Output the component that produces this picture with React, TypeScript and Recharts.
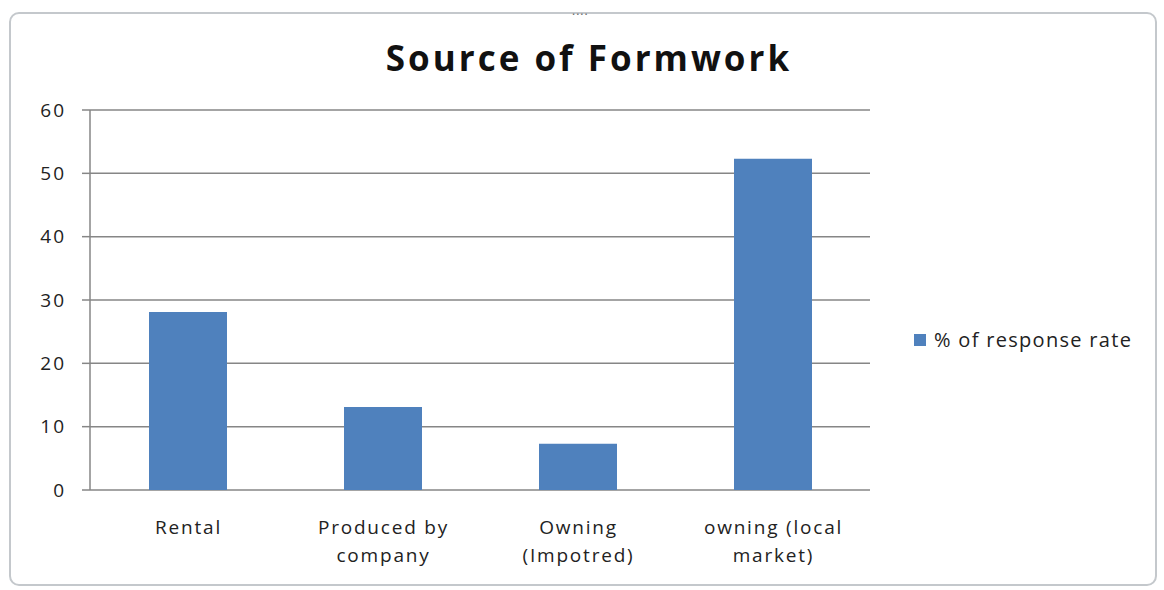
import { BarChart, Bar, XAxis, YAxis, CartesianGrid } from 'recharts';

const categories = ['Rental', 'Produced by company', 'Owning (Impotred)', 'owning (local market)'];
const categoryLines = [['Rental'], ['Produced by', 'company'], ['Owning', '(Impotred)'], ['owning (local', 'market)']];
const responseRate = [28.1, 13.1, 7.3, 52.3];
const yTicks = [0, 10, 20, 30, 40, 50, 60];
const boundaryTicks = [0, 1, 2, 3, 4];

const seriesName = '% of response rate';
const barColor = '#4F81BD';
const axisColor = '#868686';
const font = '"Open Sans", sans-serif';

const data = categories.map((name, i) => ({ name, idx: i, value: responseRate[i] }));

function CategoryTick(props: any) {
  const { x, y, index } = props;
  const lines = categoryLines[index] || [];
  return (
    <g transform={`translate(${x},${y})`}>
      {lines.map((line, i) => (
        <text
          key={i}
          x={1}
          y={i * 28}
          dy={36}
          textAnchor="middle"
          fill="#222"
          fontSize={19}
          fontFamily={font}
          style={{ letterSpacing: 1.8 }}
        >
          {line}
        </text>
      ))}
    </g>
  );
}

export default function App() {
  return (
    <div style={{ position: 'absolute', left: 0, top: 0, width: 1164, height: 590, background: '#fff', fontFamily: font }}>
      <div
        style={{
          position: 'absolute', left: 9, top: 12, width: 1148, height: 574,
          border: '2px solid #c4c8cc', borderRadius: 10, boxSizing: 'border-box',
        }}
      />
      <div style={{ position: 'absolute', left: 572, top: 2, fontSize: 12, color: '#666', letterSpacing: 1 }}>....</div>
      <div
        style={{
          position: 'absolute', left: 0, top: 34, width: 1178, textAlign: 'center',
          fontSize: 35, fontWeight: 700, color: '#111', letterSpacing: 3,
        }}
      >
        Source of Formwork
      </div>
      <BarChart
        width={1164}
        height={590}
        data={data}
        margin={{ top: 110, right: 294, left: 0, bottom: 0 }}
        style={{ position: 'absolute', left: 0, top: 0 }}
      >
        <CartesianGrid vertical={false} stroke={axisColor} strokeWidth={1.5} />
        <XAxis
          xAxisId="bounds"
          type="number"
          dataKey="idx"
          domain={[0, 4]}
          ticks={boundaryTicks}
          height={0}
          stroke={axisColor}
          strokeWidth={1.5}
          tickSize={7}
          tick={() => <g />}
        />
        <XAxis
          dataKey="name"
          height={100}
          axisLine={false}
          tickLine={false}
          interval={0}
          tick={<CategoryTick />}
        />
        <YAxis
          width={90}
          domain={[0, 60]}
          ticks={yTicks}
          stroke={axisColor}
          strokeWidth={1.5}
          tickSize={8}
          tickMargin={16}
          tick={{ fill: '#222', fontSize: 19, fontFamily: font, style: { letterSpacing: 2 } }}
        />
        <Bar dataKey="value" name={seriesName} fill={barColor} barSize={78} isAnimationActive={false} />
      </BarChart>
      <div style={{ position: 'absolute', left: 914, top: 326, display: 'flex', alignItems: 'center', fontSize: 20, color: '#222', letterSpacing: 1.3 }}>
        <span style={{ width: 12, height: 12, background: barColor, marginRight: 8, display: 'inline-block' }} />
        {seriesName}
      </div>
    </div>
  );
}
